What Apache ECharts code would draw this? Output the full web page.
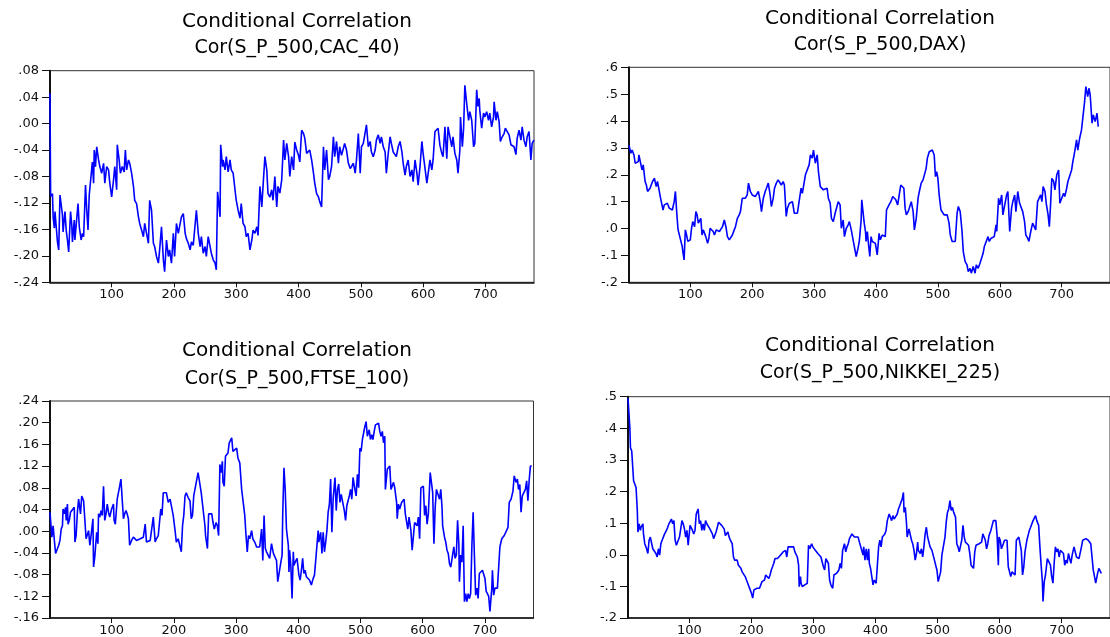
<!DOCTYPE html>
<html>
<head>
<meta charset="utf-8">
<script src="https://cdn.jsdelivr.net/npm/echarts@6/dist/echarts.min.js"></script>
<style>
html,body{margin:0;padding:0;background:#fff;}
#chart{width:1110px;height:637px;}
</style>
</head>
<body>
<div id="chart"></div>
<script>
// ---- data: [observation, conditional correlation] ----
const cacData = [[1,0.046],[2,-0.11],[5,-0.106],[6,-0.141],[8,-0.158],[9,-0.133],[11,-0.156],[13,-0.179],[15,-0.191],[17,-0.108],[19,-0.111],[21,-0.138],[22,-0.164],[25,-0.133],[27,-0.161],[29,-0.176],[31,-0.194],[34,-0.133],[36,-0.154],[37,-0.179],[40,-0.146],[41,-0.176],[44,-0.179],[46,-0.121],[48,-0.156],[51,-0.176],[53,-0.166],[55,-0.171],[58,-0.093],[60,-0.131],[62,-0.161],[64,-0.108],[67,-0.111],[69,-0.058],[71,-0.09],[72,-0.04],[74,-0.065],[76,-0.035],[79,-0.055],[81,-0.065],[84,-0.075],[87,-0.06],[89,-0.09],[92,-0.065],[95,-0.07],[97,-0.09],[100,-0.111],[103,-0.085],[105,-0.065],[108,-0.1],[109,-0.032],[112,-0.055],[114,-0.075],[117,-0.065],[120,-0.073],[122,-0.04],[124,-0.07],[127,-0.055],[129,-0.06],[132,-0.075],[135,-0.095],[137,-0.116],[140,-0.121],[143,-0.141],[145,-0.151],[148,-0.161],[151,-0.171],[153,-0.151],[156,-0.166],[159,-0.181],[161,-0.116],[164,-0.131],[167,-0.181],[169,-0.186],[172,-0.201],[175,-0.211],[177,-0.191],[180,-0.156],[183,-0.206],[185,-0.224],[188,-0.176],[191,-0.201],[193,-0.191],[196,-0.211],[199,-0.166],[201,-0.201],[204,-0.151],[207,-0.166],[210,-0.151],[212,-0.141],[215,-0.136],[218,-0.166],[220,-0.174],[223,-0.181],[226,-0.191],[228,-0.179],[231,-0.184],[234,-0.181],[236,-0.131],[239,-0.166],[242,-0.186],[244,-0.171],[247,-0.196],[250,-0.186],[252,-0.201],[255,-0.171],[258,-0.186],[260,-0.196],[263,-0.206],[266,-0.211],[268,-0.221],[270,-0.103],[272,-0.121],[274,-0.141],[275,-0.032],[278,-0.065],[279,-0.055],[282,-0.07],[284,-0.05],[287,-0.073],[290,-0.055],[292,-0.07],[295,-0.075],[298,-0.1],[300,-0.116],[303,-0.131],[306,-0.143],[308,-0.121],[311,-0.151],[314,-0.156],[316,-0.171],[319,-0.166],[322,-0.191],[325,-0.176],[327,-0.161],[330,-0.166],[333,-0.156],[335,-0.169],[338,-0.095],[341,-0.126],[343,-0.095],[346,-0.05],[349,-0.07],[351,-0.106],[354,-0.111],[357,-0.1],[359,-0.116],[362,-0.08],[365,-0.126],[367,-0.095],[370,-0.105],[373,-0.085],[376,-0.025],[378,-0.055],[381,-0.03],[384,-0.05],[386,-0.08],[389,-0.05],[392,-0.07],[394,-0.028],[397,-0.04],[400,-0.048],[402,-0.058],[405,-0.01],[408,-0.015],[410,-0.022],[413,-0.045],[416,-0.043],[418,-0.04],[421,-0.055],[424,-0.075],[426,-0.09],[429,-0.106],[432,-0.111],[434,-0.118],[437,-0.126],[440,-0.035],[442,-0.07],[445,-0.04],[448,-0.085],[450,-0.08],[453,-0.065],[456,-0.02],[458,-0.05],[461,-0.027],[464,-0.06],[466,-0.035],[469,-0.048],[472,-0.045],[474,-0.03],[477,-0.04],[480,-0.06],[483,-0.068],[485,-0.07],[488,-0.06],[491,-0.075],[493,-0.055],[496,-0.015],[499,-0.075],[501,-0.035],[504,-0.03],[507,-0.03],[509,-0.002],[512,-0.035],[515,-0.027],[517,-0.043],[520,-0.05],[523,-0.04],[525,-0.025],[528,-0.017],[531,-0.03],[533,-0.02],[536,-0.035],[539,-0.043],[541,-0.075],[544,-0.045],[547,-0.02],[549,-0.03],[552,-0.043],[555,-0.045],[557,-0.05],[560,-0.035],[563,-0.027],[566,-0.043],[568,-0.06],[571,-0.078],[573,-0.065],[576,-0.055],[579,-0.08],[582,-0.07],[584,-0.088],[587,-0.055],[590,-0.075],[592,-0.093],[595,-0.065],[598,-0.027],[600,-0.045],[603,-0.043],[606,-0.09],[608,-0.093],[611,-0.055],[614,-0.07],[616,-0.055],[619,-0.012],[622,-0.01],[624,-0.007],[627,-0.033],[630,-0.045],[632,-0.05],[635,-0.005],[638,-0.053],[640,-0.005],[643,-0.02],[646,-0.035],[648,-0.02],[651,-0.045],[654,-0.055],[656,-0.075],[659,-0.04],[660,0.01],[663,-0.035],[665,-0.007],[667,0.058],[670,0.03],[673,0.005],[675,0.018],[678,0.005],[681,-0.035],[683,-0.03],[686,0.051],[688,0.026],[690,0.038],[691,0.02],[694,-0.007],[697,0.016],[699,0.01],[702,0.018],[705,0.005],[707,0.016],[710,-0.005],[713,0.01],[714,0.033],[717,0.005],[719,0.018],[722,0.003],[724,-0.027],[727,-0.02],[730,-0.015],[732,-0.007],[735,-0.012],[738,-0.017],[741,-0.032],[743,-0.03],[746,-0.035],[749,-0.047],[751,-0.022],[754,-0.01],[757,-0.025],[759,-0.005],[762,-0.025],[765,-0.035],[767,-0.02],[770,-0.012],[773,-0.055],[775,-0.03],[778,-0.025]];

const daxData = [[1,0.31],[4,0.280],[6,0.292],[8,0.286],[9,0.274],[11,0.243],[13,0.237],[16,0.249],[17,0.274],[19,0.268],[22,0.218],[24,0.237],[25,0.237],[27,0.175],[29,0.162],[31,0.138],[33,0.144],[35,0.150],[37,0.156],[39,0.175],[42,0.187],[45,0.156],[47,0.175],[50,0.181],[52,0.113],[54,0.107],[56,0.069],[58,0.088],[60,0.082],[63,0.094],[66,0.076],[68,0.082],[71,0.069],[74,0.100],[76,0.138],[78,0.063],[80,0.001],[81,-0.011],[83,-0.030],[85,-0.036],[87,-0.067],[88,-0.086],[90,-0.117],[92,-0.005],[94,-0.024],[96,-0.048],[98,-0.055],[100,-0.042],[102,0.001],[104,0.026],[107,0.007],[109,0.063],[111,0.051],[113,0.020],[115,0.026],[117,0.038],[119,-0.024],[121,-0.005],[123,0.001],[125,-0.030],[128,-0.055],[130,-0.036],[132,0.001],[134,0.007],[137,-0.011],[139,-0.024],[142,-0.005],[145,0.001],[147,-0.011],[150,-0.005],[152,0.007],[155,0.032],[158,0.001],[160,-0.030],[163,-0.042],[166,-0.048],[168,-0.024],[171,-0.005],[173,0.007],[176,0.038],[179,0.051],[181,0.063],[184,0.113],[187,0.119],[189,0.113],[192,0.125],[194,0.169],[197,0.138],[200,0.125],[202,0.131],[205,0.119],[208,0.125],[210,0.138],[213,0.100],[215,0.063],[218,0.113],[221,0.138],[223,0.150],[226,0.169],[229,0.125],[231,0.082],[234,0.113],[236,0.150],[239,0.169],[242,0.181],[244,0.175],[247,0.162],[250,0.175],[252,0.162],[255,0.045],[257,0.076],[260,0.094],[263,0.100],[265,0.100],[268,0.057],[271,0.051],[273,0.057],[276,0.051],[279,0.150],[281,0.131],[284,0.125],[286,0.200],[289,0.206],[292,0.237],[294,0.274],[297,0.262],[299,0.292],[302,0.243],[305,0.274],[307,0.212],[310,0.156],[313,0.150],[315,0.144],[318,0.150],[321,0.150],[323,0.113],[326,0.094],[328,0.038],[331,0.026],[334,0.057],[336,0.057],[339,0.100],[342,0.088],[344,0.001],[347,0.032],[349,-0.030],[352,0.001],[355,0.014],[357,0.026],[360,-0.005],[363,-0.042],[365,-0.036],[368,-0.104],[371,-0.073],[373,-0.048],[376,0.032],[377,0.107],[379,0.063],[381,0.020],[383,-0.011],[384,-0.048],[386,-0.011],[388,-0.061],[390,-0.104],[392,-0.030],[394,-0.048],[397,-0.055],[399,-0.055],[402,-0.098],[405,-0.018],[407,-0.042],[410,-0.024],[413,-0.030],[415,-0.030],[417,0.069],[419,0.076],[421,0.088],[424,0.100],[427,0.119],[429,0.113],[432,0.107],[435,0.088],[437,0.088],[440,0.162],[442,0.156],[445,0.150],[447,0.076],[449,0.051],[452,0.063],[455,0.057],[457,0.100],[460,0.063],[462,-0.005],[465,0.038],[468,0.113],[470,0.138],[473,0.169],[476,0.181],[478,0.187],[481,0.224],[483,0.262],[486,0.286],[489,0.292],[491,0.292],[494,0.274],[496,0.193],[498,0.212],[500,0.187],[502,0.125],[505,0.069],[507,0.063],[510,0.051],[512,0.057],[515,0.051],[518,0.020],[520,-0.024],[523,-0.048],[526,-0.042],[528,-0.048],[531,0.057],[533,0.082],[536,0.063],[539,-0.011],[541,-0.086],[544,-0.123],[547,-0.135],[549,-0.160],[552,-0.148],[554,-0.166],[557,-0.141],[560,-0.166],[562,-0.135],[565,-0.148],[568,-0.129],[570,-0.135],[573,-0.092],[575,-0.067],[578,-0.067],[581,-0.030],[583,-0.048],[586,-0.036],[589,-0.036],[591,-0.030],[594,0.014],[595,-0.011],[598,0.113],[600,0.088],[603,0.125],[605,0.051],[608,0.045],[611,0.125],[613,0.138],[616,-0.011],[619,0.076],[621,0.100],[624,0.125],[626,0.063],[629,0.138],[632,0.094],[634,0.100],[637,0.063],[640,0.026],[642,-0.024],[645,-0.036],[647,-0.048],[650,-0.011],[653,0.020],[655,0.026],[658,-0.005],[661,0.100],[663,0.100],[666,0.125],[668,0.100],[670,0.156],[673,0.138],[675,0.094],[678,0.051],[680,0.007],[682,0.088],[684,0.187],[687,0.175],[689,0.144],[692,0.200],[695,0.218],[697,0.094],[700,0.113],[703,0.131],[705,0.119],[708,0.150],[710,0.175],[713,0.181],[716,0.218],[718,0.249],[721,0.286],[724,0.330],[726,0.292],[729,0.336],[732,0.367],[734,0.410],[737,0.472],[739,0.528],[742,0.491],[744,0.522],[746,0.497],[749,0.392],[751,0.423],[754,0.398],[757,0.429],[759,0.379]];

const ftseData = [[1,0.035],[4,-0.011],[5,-0.014],[6,0.010],[8,-0.017],[10,-0.041],[13,-0.038],[15,-0.026],[17,-0.017],[19,0.004],[21,0.010],[22,0.041],[24,0.032],[26,0.044],[27,0.020],[29,0.050],[30,0.013],[32,0.020],[34,0.035],[37,0.038],[40,0.044],[41,-0.020],[43,-0.008],[45,0.035],[47,0.059],[48,0.050],[50,0.032],[52,0.065],[55,0.056],[57,0.056],[59,-0.014],[61,-0.011],[63,0.001],[65,-0.026],[67,-0.008],[70,0.023],[71,-0.066],[73,-0.047],[76,-0.002],[78,-0.023],[79,0.032],[81,0.026],[83,0.038],[85,0.029],[87,0.083],[89,0.020],[91,0.032],[93,0.050],[95,0.035],[97,0.026],[100,0.041],[103,0.050],[104,0.020],[106,0.013],[109,0.059],[111,0.071],[113,0.083],[115,0.096],[117,0.093],[119,0.023],[121,0.032],[123,0.038],[125,0.032],[127,0.023],[129,-0.026],[132,-0.017],[135,-0.011],[137,-0.008],[140,-0.017],[143,-0.020],[146,-0.014],[148,-0.017],[151,-0.011],[154,0.013],[156,-0.020],[159,-0.023],[162,-0.017],[164,-0.020],[167,0.026],[170,-0.020],[172,-0.014],[175,-0.008],[178,-0.011],[179,0.041],[181,0.029],[183,0.071],[186,0.074],[188,0.071],[191,0.053],[194,0.059],[196,0.047],[199,0.029],[202,0.001],[204,-0.020],[207,-0.014],[210,-0.017],[212,-0.038],[214,0.010],[216,0.029],[218,0.065],[220,0.071],[223,0.062],[226,0.056],[228,0.023],[230,0.029],[232,0.065],[234,0.065],[236,0.090],[239,0.108],[242,0.108],[244,0.071],[247,0.068],[250,0.010],[251,-0.008],[254,-0.032],[256,0.032],[258,0.035],[261,0.032],[263,0.016],[265,0.004],[268,0.016],[270,0.010],[272,-0.008],[274,0.123],[276,0.108],[278,0.129],[279,0.090],[281,0.083],[283,0.138],[285,0.141],[287,0.144],[289,0.163],[291,0.166],[293,0.172],[295,0.147],[298,0.150],[301,0.153],[303,0.135],[306,0.126],[309,0.077],[311,0.074],[314,0.029],[316,-0.008],[318,-0.038],[320,-0.008],[322,-0.014],[325,0.001],[327,-0.014],[330,-0.020],[333,-0.029],[335,-0.032],[338,-0.029],[341,0.004],[343,-0.054],[345,0.029],[347,-0.032],[349,-0.038],[352,-0.035],[354,-0.050],[357,-0.023],[360,-0.041],[362,-0.044],[365,-0.054],[367,-0.093],[369,-0.090],[372,-0.057],[374,-0.044],[375,0.032],[377,0.117],[379,0.077],[381,0.004],[384,-0.026],[385,-0.075],[386,-0.035],[388,-0.063],[390,-0.124],[392,-0.038],[393,-0.063],[395,-0.057],[398,-0.050],[400,-0.047],[401,-0.081],[403,-0.090],[405,-0.072],[407,-0.050],[409,-0.078],[411,-0.072],[413,-0.084],[416,-0.084],[418,-0.090],[421,-0.099],[424,-0.087],[426,-0.081],[428,-0.054],[430,-0.026],[432,0.001],[433,-0.020],[436,-0.002],[438,-0.041],[440,-0.002],[442,-0.038],[444,-0.020],[446,0.001],[448,0.035],[450,0.050],[452,0.096],[454,-0.002],[456,0.059],[459,0.099],[461,0.038],[463,0.077],[465,0.087],[467,0.053],[469,0.068],[472,0.050],[474,0.038],[476,0.020],[478,0.047],[480,0.050],[482,0.065],[484,0.077],[486,0.059],[488,0.099],[491,0.077],[493,0.065],[495,0.105],[497,0.080],[499,0.153],[501,0.147],[503,0.169],[505,0.181],[507,0.193],[509,0.202],[511,0.175],[514,0.187],[516,0.169],[518,0.178],[520,0.169],[522,0.184],[524,0.196],[526,0.199],[529,0.199],[531,0.184],[533,0.175],[535,0.184],[537,0.163],[539,0.175],[540,0.077],[543,0.114],[545,0.117],[547,0.120],[549,0.077],[551,0.074],[553,0.090],[555,0.080],[558,0.053],[559,0.023],[561,0.050],[563,0.041],[566,0.053],[568,0.050],[570,0.059],[572,0.032],[574,0.029],[576,0.004],[578,0.026],[581,0.001],[583,-0.035],[585,-0.038],[587,0.016],[589,0.016],[591,0.010],[593,0.026],[595,-0.014],[597,0.080],[599,0.083],[601,0.083],[603,0.029],[605,0.047],[607,0.013],[609,0.032],[612,0.108],[614,0.105],[616,0.071],[618,-0.023],[620,0.044],[622,0.077],[624,0.077],[627,0.059],[629,0.077],[631,0.044],[632,0.010],[635,-0.011],[637,-0.020],[639,-0.035],[641,-0.041],[643,-0.060],[645,-0.066],[647,-0.066],[650,-0.029],[652,-0.050],[654,-0.044],[656,0.020],[658,-0.023],[659,-0.093],[661,-0.044],[663,-0.057],[665,0.010],[667,-0.130],[669,-0.115],[671,-0.130],[673,-0.115],[675,-0.124],[677,-0.115],[679,-0.026],[681,0.035],[683,-0.044],[685,-0.118],[687,-0.105],[689,-0.124],[691,-0.078],[693,-0.081],[696,-0.072],[698,-0.069],[700,-0.087],[702,-0.111],[704,-0.115],[706,-0.120],[708,-0.148],[711,-0.105],[712,-0.072],[714,-0.118],[716,-0.105],[718,-0.105],[720,-0.105],[722,-0.102],[724,-0.029],[727,-0.014],[729,-0.014],[731,-0.008],[734,-0.005],[737,0.007],[739,0.053],[742,0.059],[745,0.074],[747,0.102],[750,0.090],[752,0.096],[754,0.077],[756,0.086],[758,0.035],[760,0.065],[762,0.062],[765,0.077],[767,0.093],[769,0.056],[771,0.093],[773,0.120],[775,0.120]];

const nikkeiData = [[1,0.495],[4,0.401],[5,0.338],[7,0.328],[9,0.333],[10,0.234],[12,0.228],[14,0.213],[16,0.140],[17,0.072],[19,0.098],[21,0.077],[22,0.087],[25,0.098],[26,0.066],[28,0.035],[30,0.035],[31,0.019],[33,0.004],[35,0.046],[37,0.056],[39,0.051],[41,0.019],[44,0.025],[46,0.004],[48,-0.007],[50,0.019],[52,-0.001],[54,0.035],[56,0.046],[58,0.040],[60,0.066],[63,0.077],[65,0.087],[67,0.098],[69,0.103],[71,0.113],[73,0.098],[75,0.108],[77,0.046],[79,0.030],[82,0.046],[84,0.056],[86,0.061],[88,0.108],[90,0.098],[92,0.082],[94,0.056],[96,0.077],[98,0.030],[101,0.093],[103,0.087],[105,0.077],[107,0.066],[109,0.077],[111,0.129],[113,0.134],[114,0.145],[116,0.098],[118,0.108],[120,0.077],[122,0.098],[124,0.077],[126,0.108],[128,0.098],[131,0.093],[133,0.082],[135,0.077],[137,0.066],[139,0.051],[141,0.056],[143,0.072],[145,0.087],[147,0.103],[150,0.108],[152,0.093],[154,0.087],[156,0.082],[158,0.061],[160,0.066],[162,0.072],[164,0.056],[166,0.046],[169,0.035],[171,-0.007],[173,-0.017],[175,-0.012],[177,-0.017],[179,-0.033],[181,-0.033],[183,-0.043],[185,-0.054],[188,-0.059],[190,-0.069],[192,-0.080],[194,-0.090],[196,-0.085],[198,-0.111],[200,-0.122],[202,-0.137],[204,-0.111],[207,-0.116],[209,-0.106],[211,-0.111],[213,-0.106],[215,-0.101],[217,-0.085],[219,-0.085],[221,-0.080],[223,-0.064],[226,-0.059],[228,-0.075],[230,-0.064],[232,-0.048],[234,-0.038],[236,-0.027],[238,-0.012],[240,-0.007],[242,-0.012],[245,-0.012],[247,-0.001],[249,0.004],[251,0.009],[253,0.009],[255,0.014],[257,-0.007],[259,0.025],[261,0.019],[264,0.025],[266,0.019],[268,0.025],[270,0.009],[272,0.004],[274,-0.007],[276,-0.033],[277,-0.101],[279,-0.069],[280,-0.090],[282,-0.101],[284,-0.095],[286,-0.095],[288,-0.095],[290,-0.090],[292,0.030],[294,0.019],[295,0.025],[297,0.035],[299,0.025],[301,0.025],[303,0.014],[305,0.019],[307,0.004],[309,-0.001],[312,-0.007],[314,-0.012],[316,-0.038],[318,-0.048],[320,-0.012],[322,-0.007],[324,-0.027],[326,-0.080],[328,-0.095],[331,-0.106],[333,-0.064],[335,-0.064],[337,-0.059],[339,-0.054],[341,-0.048],[343,-0.027],[345,-0.043],[347,0.014],[350,0.035],[352,0.009],[354,0.025],[356,0.035],[358,0.051],[360,0.056],[362,0.066],[364,0.061],[366,0.056],[369,0.061],[372,0.056],[374,0.040],[377,0.035],[380,-0.001],[381,0.025],[383,-0.017],[385,0.019],[387,-0.017],[389,0.019],[390,-0.027],[392,-0.043],[394,-0.069],[396,-0.095],[398,-0.080],[401,-0.090],[403,-0.085],[405,0.025],[407,0.046],[409,0.025],[411,0.056],[413,0.061],[415,0.066],[417,0.077],[419,0.108],[422,0.129],[424,0.134],[426,0.108],[428,0.124],[430,0.113],[432,0.119],[435,0.129],[437,0.145],[439,0.155],[441,0.166],[443,0.176],[445,0.197],[446,0.134],[448,0.150],[450,0.098],[451,0.056],[454,0.082],[456,0.082],[458,0.046],[460,0.035],[462,0.014],[464,-0.017],[466,0.004],[468,0.040],[469,0.014],[472,0.004],[474,0.019],[476,-0.007],[478,0.025],[480,0.066],[482,0.087],[484,0.056],[486,0.056],[488,0.025],[491,0.014],[493,0.009],[495,-0.017],[497,-0.033],[499,-0.048],[501,-0.085],[503,-0.090],[505,-0.054],[507,-0.001],[510,-0.007],[512,0.056],[514,0.103],[516,0.134],[518,0.145],[520,0.171],[522,0.140],[524,0.150],[526,0.134],[529,0.119],[531,0.035],[533,0.025],[535,0.009],[537,0.004],[539,0.046],[541,0.093],[543,0.056],[545,0.040],[548,0.046],[550,0.030],[552,0.004],[554,-0.033],[556,-0.027],[558,-0.043],[560,0.009],[562,0.030],[564,0.025],[567,0.035],[569,0.040],[571,0.040],[573,0.066],[575,0.056],[577,0.046],[579,0.019],[581,0.035],[583,0.061],[586,0.077],[588,0.093],[590,0.108],[592,0.113],[594,0.108],[596,0.061],[598,-0.033],[599,0.056],[601,0.046],[603,0.019],[606,0.035],[608,0.046],[610,0.051],[612,0.046],[614,-0.038],[616,-0.043],[618,-0.069],[620,-0.054],[622,-0.059],[625,-0.064],[627,0.046],[629,0.051],[631,0.056],[633,0.051],[635,0.014],[637,-0.064],[639,-0.038],[641,0.009],[644,0.046],[646,0.051],[648,0.077],[650,0.087],[652,0.093],[654,0.108],[656,0.113],[658,0.124],[660,0.108],[663,0.093],[665,0.025],[667,-0.033],[669,-0.085],[670,-0.148],[672,-0.085],[674,-0.064],[675,-0.069],[677,-0.012],[679,-0.017],[682,-0.033],[684,-0.069],[686,-0.090],[688,-0.027],[690,0.025],[692,0.009],[694,0.019],[696,-0.007],[698,0.014],[701,0.009],[703,0.004],[705,-0.033],[707,-0.017],[709,-0.027],[711,0.004],[713,-0.012],[715,-0.027],[717,-0.001],[720,0.025],[722,0.019],[724,-0.007],[726,-0.007],[728,-0.012],[730,-0.012],[732,0.025],[734,0.046],[736,0.051],[739,0.051],[741,0.056],[743,0.046],[745,0.051],[747,0.035],[749,0.040],[751,-0.048],[753,-0.048],[755,-0.090],[758,-0.059],[760,-0.043],[762,-0.038],[764,-0.059]];

const mainTitle = 'Conditional Correlation';
const subTitles = ['Cor(S_P_500,CAC_40)', 'Cor(S_P_500,DAX)', 'Cor(S_P_500,FTSE_100)', 'Cor(S_P_500,NIKKEI_225)'];
const xTickValues = [100, 200, 300, 400, 500, 600, 700];
const yRanges = [
  {min: -0.24, max: 0.08, interval: 0.04, digits: 2},
  {min: -0.2,  max: 0.6,  interval: 0.1,  digits: 1},
  {min: -0.16, max: 0.24, interval: 0.04, digits: 2},
  {min: -0.2,  max: 0.5,  interval: 0.1,  digits: 1}
];
const seriesData = [cacData, daxData, ftseData, nikkeiData];

// ---- layout ----
const grids = [
  {left: 50,  top: 70.7, width: 484, height: 211.6},
  {left: 629, top: 67.3, width: 493, height: 215},
  {left: 50,  top: 401,  width: 483.5, height: 219},
  {left: 628, top: 396.7, width: 491, height: 223.3}
];
const titlePos = [
  {x: 292, t: 7, s: 33.5},
  {x: 875, t: 3.5, s: 30.5},
  {x: 292, t: 336, s: 365},
  {x: 875, t: 331, s: 359}
];

const FONT = 'DejaVu Sans';
function fmt(d) {
  return function (v) {
    if (Math.abs(v) < 1e-9) return d === 2 ? '.00' : '.0';
    const s = Math.abs(v).toFixed(d).replace(/^0/, '');
    return (v < 0 ? '-' : '') + s;
  };
}

const titles = [];
titlePos.forEach((p, i) => {
  titles.push({text: mainTitle, left: p.x, top: p.t, textAlign: 'center',
    textStyle: {fontFamily: FONT, fontSize: 20, fontWeight: 'normal', color: '#000'}});
  titles.push({text: subTitles[i], left: p.x, top: p.s, textAlign: 'center',
    textStyle: {fontFamily: FONT, fontSize: 19, fontWeight: 'normal', color: '#000'}});
});

const option = {
  animation: false,
  backgroundColor: '#fff',
  title: titles,
  grid: grids.map(g => Object.assign({show: true, borderColor: '#333', borderWidth: 1, backgroundColor: '#fff', containLabel: false}, g)),
  xAxis: grids.map((g, i) => ({
    type: 'value', gridIndex: i, min: 1, max: 778,
    axisLine: {show: true, onZero: false, lineStyle: {color: '#111', width: 1.5}},
    axisTick: {show: true, customValues: xTickValues, length: 5, lineStyle: {color: '#111', width: 1}},
    axisLabel: {customValues: xTickValues, fontFamily: FONT, fontSize: 13, color: '#111', margin: 6},
    splitLine: {show: false}
  })),
  yAxis: yRanges.map((r, i) => ({
    type: 'value', gridIndex: i, min: r.min, max: r.max, interval: r.interval,
    axisLine: {show: true, onZero: false, lineStyle: {color: '#111', width: 2}},
    axisTick: {show: true, length: 8, lineStyle: {color: '#111', width: 1}},
    axisLabel: {formatter: fmt(r.digits), fontFamily: FONT, fontSize: 13, color: '#111', margin: 11},
    splitLine: {show: false}
  })),
  series: seriesData.map((d, i) => ({
    type: 'line', xAxisIndex: i, yAxisIndex: i, data: d,
    showSymbol: false, symbol: 'none', clip: true,
    lineStyle: {color: '#0000ff', width: 1.6},
    emphasis: {disabled: true}
  }))
};

const chart = echarts.init(document.getElementById('chart'), null, {renderer: 'canvas'});
chart.setOption(option);
</script>
</body>
</html>
